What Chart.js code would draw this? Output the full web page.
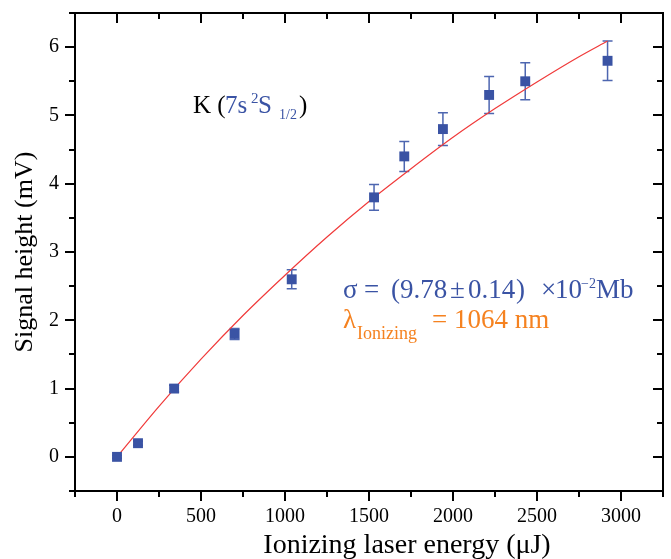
<!DOCTYPE html>
<html>
<head>
<meta charset="utf-8">
<script src="https://cdn.jsdelivr.net/npm/chart.js@4/dist/chart.umd.min.js"></script>
<style>
  html, body { margin: 0; padding: 0; background: #fff; }
</style>
</head>
<body>
<canvas id="chart" width="671" height="559"></canvas>
<script>
const energy = [0, 125, 340, 700, 1040, 1530, 1710, 1940, 2215, 2430, 2920]
const signal = [0, 0.2, 1.0, 1.8, 2.6, 3.8, 4.4, 4.8, 5.3, 5.5, 5.8]
const signalErr = [0.02, 0.03, 0.05, 0.08, 0.14, 0.19, 0.22, 0.24, 0.27, 0.27, 0.29]

// fitted curve (red)
const fitEnergy = [0, 250, 500, 750, 1000, 1250, 1500, 1750, 2000, 2250, 2500, 2750, 2920]
const fitSignal = [0, 0.74, 1.43, 2.07, 2.66, 3.22, 3.74, 4.22, 4.68, 5.10, 5.49, 5.86, 6.09]

const xLabels = [0, 500, 1000, 1500, 2000, 2500, 3000]
const yLabels = [0, 1, 2, 3, 4, 5, 6]

const SERIF = "'Liberation Serif', 'Times New Roman', serif"
const BLUE = '#3a53a4'
const ORANGE = '#f58220'

// error bars under the markers
const errorBars = {
  id: 'errorBars',
  beforeDatasetsDraw(chart) {
    const { ctx, scales: { x, y } } = chart
    ctx.save()
    ctx.strokeStyle = '#4d66b0'
    ctx.lineWidth = 1.5
    energy.forEach((e, i) => {
      const px = x.getPixelForValue(e)
      const top = y.getPixelForValue(signal[i] + signalErr[i])
      const bot = y.getPixelForValue(signal[i] - signalErr[i])
      ctx.beginPath()
      ctx.moveTo(px, top); ctx.lineTo(px, bot)
      ctx.moveTo(px - 5, top); ctx.lineTo(px + 5, top)
      ctx.moveTo(px - 5, bot); ctx.lineTo(px + 5, bot)
      ctx.stroke()
    })
    ctx.restore()
  }
}

// box frame + ticks on all four sides (left/bottom outward, top/right inward)
const frame = {
  id: 'frame',
  afterDraw(chart) {
    const { ctx, chartArea: a, scales: { x, y } } = chart
    ctx.save()
    ctx.strokeStyle = '#000'
    ctx.lineWidth = 2
    ctx.strokeRect(a.left, a.top, a.right - a.left, a.bottom - a.top)
    ctx.beginPath()
    for (let v = -250; v <= 3250; v += 250) {
      const px = Math.round(x.getPixelForValue(v))
      const len = v % 500 === 0 ? 10 : 6
      ctx.moveTo(px, a.bottom); ctx.lineTo(px, a.bottom + len)
      ctx.moveTo(px, a.top); ctx.lineTo(px, a.top + len)
    }
    for (let v = -0.5; v <= 6.5; v += 0.5) {
      const py = Math.round(y.getPixelForValue(v))
      const len = Number.isInteger(v) ? 10 : 6
      ctx.moveTo(a.left, py); ctx.lineTo(a.left - len, py)
      ctx.moveTo(a.right, py); ctx.lineTo(a.right - len, py)
    }
    ctx.stroke()
    ctx.restore()
  }
}

// text annotations + x axis title (it sits right of centre in the original)
const notes = {
  id: 'notes',
  afterDraw(chart) {
    const ctx = chart.ctx
    ctx.save()
    ctx.textBaseline = 'alphabetic'
    ctx.textAlign = 'left'
    const put = (txt, x, y, size, color) => {
      ctx.font = `${size}px ${SERIF}`
      ctx.fillStyle = color
      ctx.fillText(txt, x, y)
    }
    // K (7s 2S1/2)
    put('K (', 193, 113, 25, '#000')
    put('7s', 225, 113, 25, BLUE)
    put('2', 251, 103, 15, BLUE)
    put('S', 258, 113, 25, BLUE)
    put('1/2', 279, 119, 14, BLUE)
    put(')', 299, 113, 25, '#000')

    // cross section
    put('σ', 343, 298, 27, BLUE)
    put('=', 364, 298, 27, BLUE)
    put('(', 391, 298, 27, BLUE)
    put('9.78', 400, 298, 27, BLUE)
    put('±', 450, 298, 27, BLUE)
    put('0.14', 468, 298, 27, BLUE)
    put(')', 516, 298, 27, BLUE)
    put('×', 541, 298, 27, BLUE)
    put('10', 555, 298, 27, BLUE)
    put('−2', 581, 288, 14, BLUE)
    put('Mb', 596, 298, 27, BLUE)

    // wavelength
    put('λ', 343, 328, 27, ORANGE)
    put('Ionizing', 357, 339, 18, ORANGE)
    put('= 1064 nm', 432, 328, 27, ORANGE)

    ctx.textAlign = 'center'
    put('Ionizing laser energy (μJ)', 407, 553, 28, '#000')
    ctx.restore()
  }
}

new Chart(document.getElementById('chart'), {
  type: 'scatter',
  data: {
    datasets: [{
      data: energy.map((e, i) => ({ x: e, y: signal[i] })),
      pointStyle: 'rect',
      pointRadius: 7,
      backgroundColor: BLUE,
      borderColor: BLUE,
      borderWidth: 0,
      order: 0
    }, {
      data: fitEnergy.map((e, i) => ({ x: e, y: fitSignal[i] })),
      showLine: true,
      cubicInterpolationMode: 'monotone',
      pointRadius: 0,
      borderColor: '#f03a3a',
      borderWidth: 1.2,
      order: 1
    }]
  },
  options: {
    responsive: false,
    animation: false,
    layout: { padding: { left: 0, right: 8, top: 13, bottom: 0 } },
    plugins: { legend: { display: false }, tooltip: { enabled: false } },
    scales: {
      x: {
        type: 'linear',
        min: -250,
        max: 3250,
        grid: { display: false, drawTicks: false },
        border: { display: false },
        afterBuildTicks: s => { s.ticks = xLabels.map(v => ({ value: v })) },
        afterFit: s => { s.height = 68; s.paddingLeft = 0; s.paddingRight = 0 },
        ticks: { color: '#000', font: { family: SERIF, size: 20 }, padding: 14, maxRotation: 0, autoSkip: false, callback: v => String(v) }
      },
      y: {
        min: -0.5,
        max: 6.5,
        grid: { display: false, drawTicks: false },
        border: { display: false },
        afterBuildTicks: s => { s.ticks = yLabels.map(v => ({ value: v })) },
        afterFit: s => { s.width = 75; s.paddingTop = 0; s.paddingBottom = 0 },
        ticks: { color: '#000', font: { family: SERIF, size: 20 }, padding: 16, autoSkip: false, callback: v => String(v) },
        title: { display: true, text: 'Signal height (mV)', color: '#000', font: { family: SERIF, size: 26, lineHeight: 1 }, padding: { top: 12, bottom: 0 } }
      }
    }
  },
  plugins: [errorBars, frame, notes]
})
</script>
</body>
</html>
